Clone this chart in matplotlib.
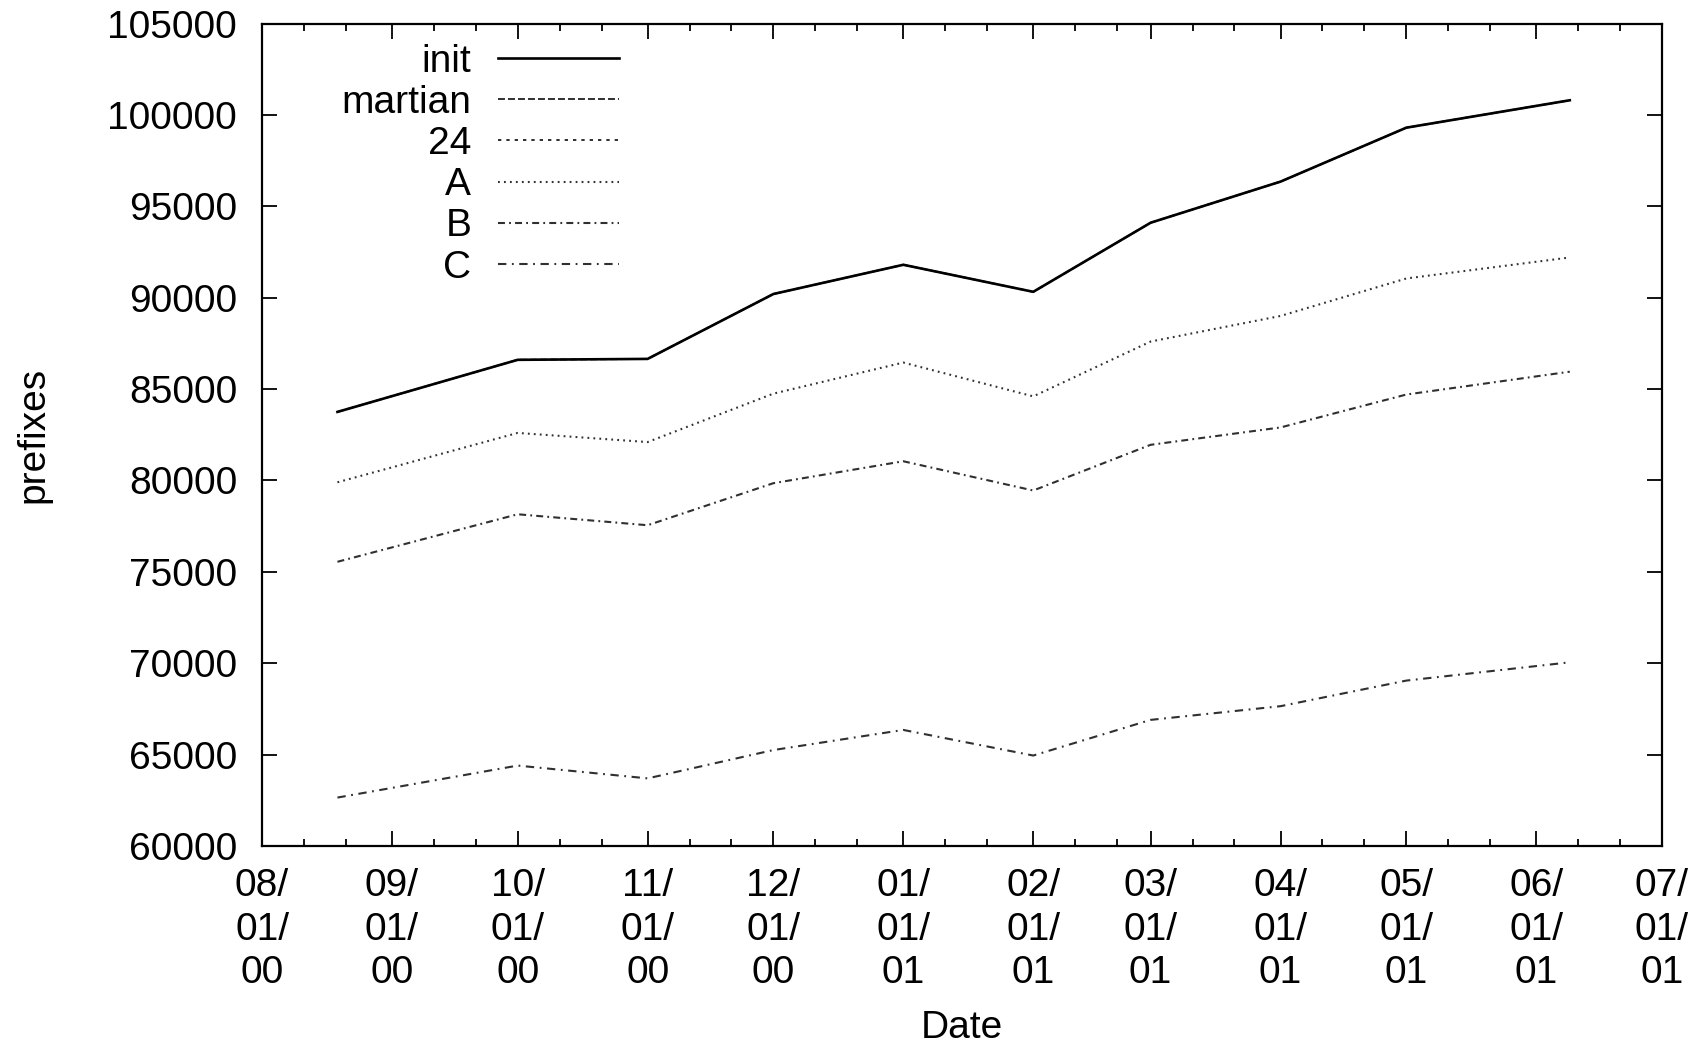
import matplotlib
matplotlib.use("Agg")
import matplotlib.pyplot as plt
import matplotlib.dates as mdates
from datetime import datetime

# Snapshot dates of the routing-table samples
dates = ["2000-08-19", "2000-10-01", "2000-11-01", "2000-12-01", "2001-01-01",
         "2001-02-01", "2001-03-01", "2001-04-01", "2001-05-01", "2001-06-09"]

# Prefix counts per filter
init_vals = [83750, 86600, 86650, 90200, 91800, 90320, 94100, 96350, 99300, 100800]
martian_vals = [83750, 86600, 86650, 90200, 91800, 90320, 94100, 96350, 99300, 100800]
vals_24 = []  # below the plotted range
a_vals = [79900, 82600, 82100, 84750, 86450, 84600, 87600, 89000, 91050, 92200]
b_vals = [75550, 78150, 77550, 79850, 81050, 79450, 81950, 82900, 84700, 85950]
c_vals = [62650, 64400, 63700, 65250, 66350, 64950, 66900, 67650, 69050, 70050]

series_names = ["init", "martian", "24", "A", "B", "C"]
y_ticks = list(range(60000, 105001, 5000))
x_start, x_end = "2000-08-01", "2001-07-01"

plt.rcParams["font.family"] = ["Liberation Sans", "DejaVu Sans"]
plt.rcParams["font.size"] = 28
plt.rcParams["lines.scale_dashes"] = False

x = [datetime.strptime(d, "%Y-%m-%d") for d in dates]

fig = plt.figure(figsize=(17.04, 10.46), dpi=100)
ax = fig.add_axes([0.15376, 0.19120, 0.82159, 0.78633])

grey = "#303030"
styles = {
    "init":    dict(color="black", lw=1.9, linestyle="-"),
    "martian": dict(color=grey, lw=1.4, linestyle=(0, (5.0, 2.2))),
    "24":      dict(color=grey, lw=1.4, linestyle=(0, (2.4, 3.6))),
    "A":       dict(color=grey, lw=1.5, linestyle=(0, (1.3, 3.0))),
    "B":       dict(color=grey, lw=1.5, linestyle=(0, (5.0, 3.0, 1.3, 3.0))),
    "C":       dict(color=grey, lw=1.5, linestyle=(0, (6.0, 4.0, 1.3, 4.0))),
}

ax.plot(x, martian_vals, label="martian", zorder=2, **styles["martian"])
ax.plot(x, init_vals, label="init", zorder=3, **styles["init"])
ax.plot([x[i] for i in range(len(vals_24))], vals_24, label="24", **styles["24"])
ax.plot(x, a_vals, label="A", **styles["A"])
ax.plot(x, b_vals, label="B", **styles["B"])
ax.plot(x, c_vals, label="C", **styles["C"])

ax.set_xlim(datetime.strptime(x_start, "%Y-%m-%d"), datetime.strptime(x_end, "%Y-%m-%d"))
ax.set_ylim(y_ticks[0], y_ticks[-1])
ax.set_yticks(y_ticks)
ax.set_yticklabels([str(v) for v in y_ticks])

ax.xaxis.set_major_locator(mdates.MonthLocator(bymonthday=1))
ax.xaxis.set_minor_locator(mdates.DayLocator(bymonthday=[11, 21]))
ax.xaxis.set_major_formatter(mdates.DateFormatter("%m/\n%d/\n%y"))

ax.tick_params(which="both", direction="in", top=True, right=True, width=1.3)
ax.tick_params(which="major", length=10.5)
ax.tick_params(which="minor", length=5)
ax.tick_params(axis="y", which="major", pad=18)
ax.tick_params(axis="x", which="major", pad=16)
fig.canvas.draw()
for lab in ax.get_xticklabels():
    lab.set_linespacing(1.26)
for sp in ax.spines.values():
    sp.set_linewidth(1.6)

ax.set_xlabel("Date")
ax.xaxis.set_label_coords(0.5, -0.199)
ax.set_ylabel("prefixes")
ax.yaxis.set_label_coords(-0.1507, 0.5)

handles, labels = ax.get_legend_handles_labels()
order = [labels.index(n) for n in series_names]
leg = ax.legend([handles[i] for i in order], [labels[i] for i in order],
                loc="upper right", bbox_to_anchor=(619 / 1704, 1 - 43.5 / 1046),
                bbox_transform=fig.transFigure, frameon=False, markerfirst=False,
                borderpad=0, borderaxespad=0, handlelength=3.1, handletextpad=0.7,
                labelspacing=0.135, fontsize=28)

fig.savefig("out.png", dpi=100, facecolor="white")
